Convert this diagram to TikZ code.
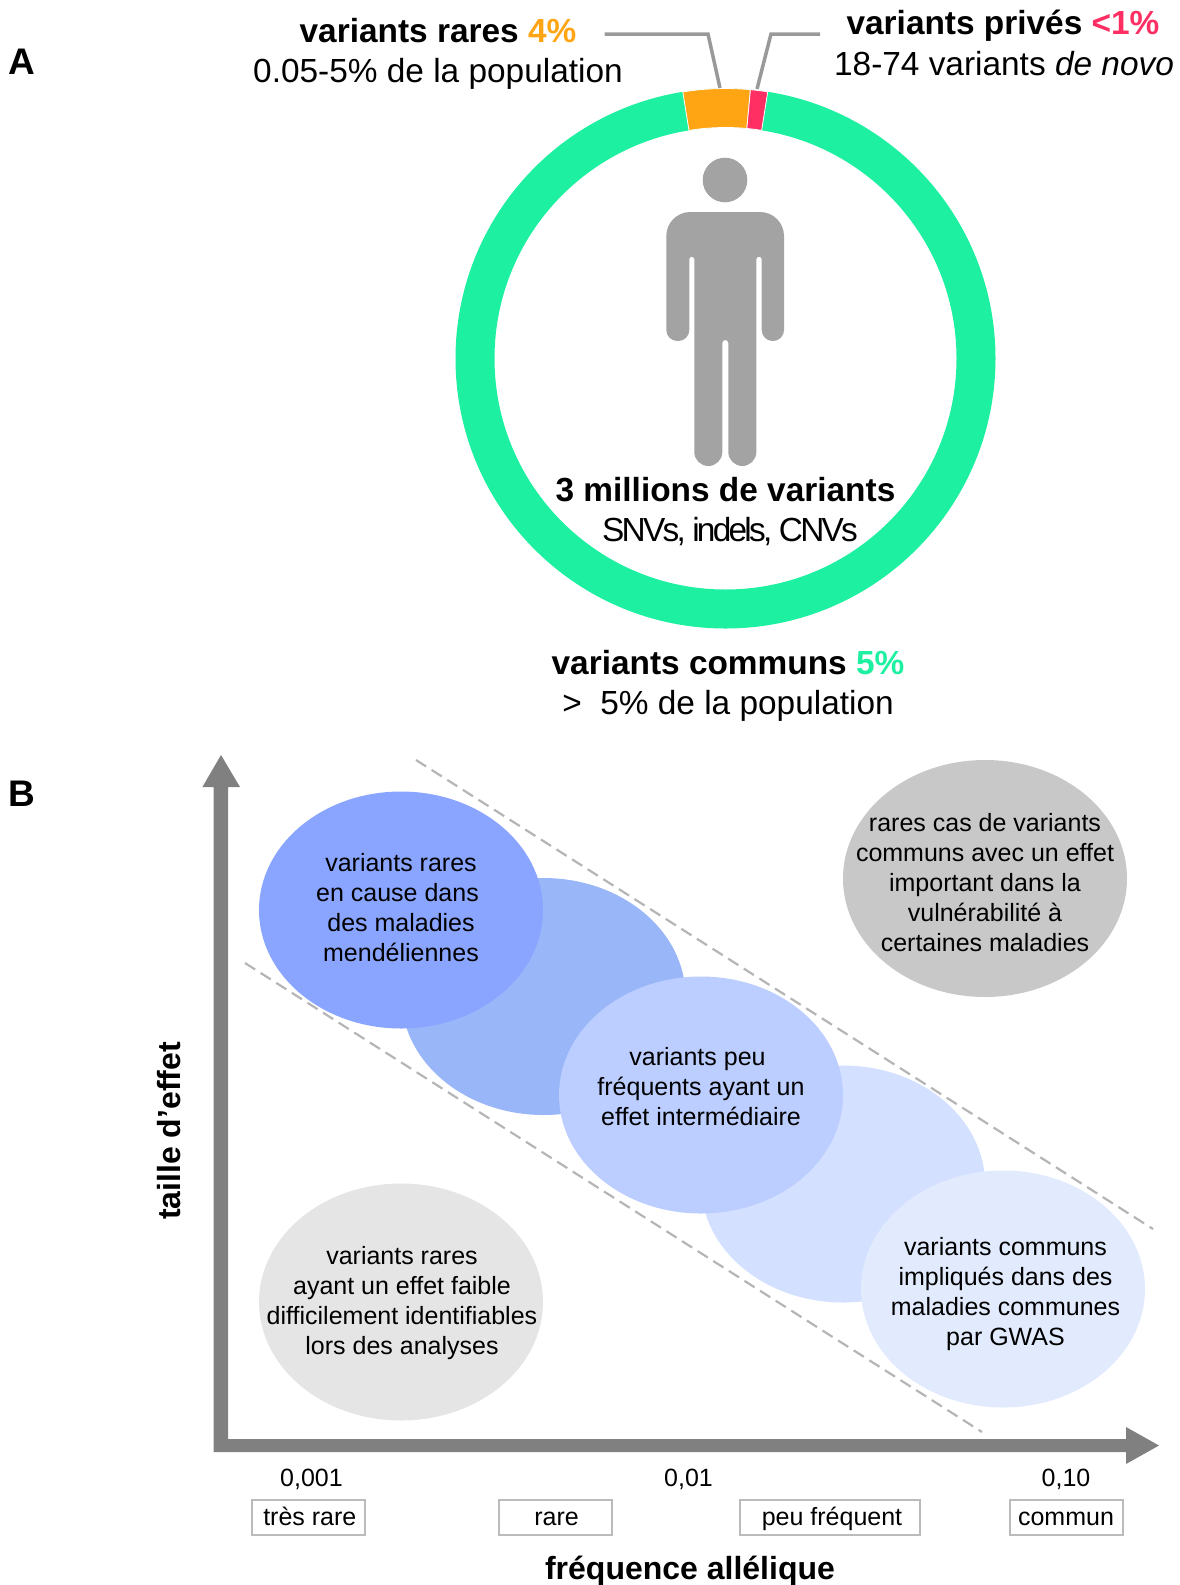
\documentclass[tikz,border=0pt]{standalone}
\usepackage{fontspec}
\setmainfont{Liberation Sans}
\usetikzlibrary{shapes.geometric,calc}
\definecolor{ringgreen}{HTML}{1DF0A0}
\definecolor{ringorange}{HTML}{FFA514}
\definecolor{ringpink}{HTML}{FF2E63}
\definecolor{leader}{HTML}{999999}
\definecolor{personfill}{HTML}{A3A3A3}
\definecolor{axisgrey}{HTML}{808080}
\definecolor{ellA}{HTML}{8AA5FF}
\definecolor{ellB}{HTML}{99B6F8}
\definecolor{ellC}{HTML}{BCCDFF}
\definecolor{ellD}{HTML}{D3E0FF}
\definecolor{ellE}{HTML}{E2EAFD}
\definecolor{ellG}{HTML}{C8C8C8}
\definecolor{ellL}{HTML}{E5E5E5}
\definecolor{dashgrey}{HTML}{B5B5B5}
\definecolor{boxgrey}{HTML}{BBBBBB}
\tikzset{
  x=1pt,y=-1pt,
  titletext/.style={inner sep=0pt,anchor=center,font=\fontsize{33.4}{40}\selectfont},
  axistext/.style={inner sep=0pt,anchor=center,font=\fontsize{32}{40}\selectfont\bfseries},
  paneltext/.style={inner sep=0pt,anchor=center,font=\fontsize{37}{40}\selectfont\bfseries},
  smalltext/.style={inner sep=0pt,anchor=center,align=center,font=\fontsize{25}{30}\selectfont},
  blob/.style={ellipse,draw=none,minimum width=284pt,minimum height=237pt,inner sep=0pt},
  leaderline/.style={draw=leader,line width=3.5pt},
  dashline/.style={draw=dashgrey,line width=2.2pt,dash pattern=on 12pt off 6.5pt},
  axisfill/.style={fill=axisgrey,draw=none},
  scalebox/.style={draw=boxgrey,line width=2pt,rectangle,inner sep=0pt,minimum height=35pt,text height=20pt,text depth=5pt,font=\fontsize{25}{30}\selectfont},
  segment/.style={draw=white,line width=0.8pt},
}
\begin{document}
\begin{tikzpicture}
\useasboundingbox (0,0) rectangle (1180,1585);
% ring
\coordinate (c) at (725.5,358.5);
\fill[ringgreen,even odd rule] (c) circle[radius=270pt] (c) circle[radius=231pt];
\filldraw[segment,fill=ringorange] ($(c)+(99.1:270pt)$) arc[start angle=99.1,end angle=84.7,radius=270pt]
   -- ($(c)+(84.7:231pt)$) arc[start angle=84.7,end angle=99.1,radius=231pt] -- cycle;
\filldraw[segment,fill=ringpink] ($(c)+(84.7:270pt)$) arc[start angle=84.7,end angle=81,radius=270pt]
   -- ($(c)+(81:231pt)$) arc[start angle=81,end angle=84.7,radius=231pt] -- cycle;
% leaders
\coordinate (rareA) at (604.5,34); \coordinate (rareB) at (708,34); \coordinate (rareC) at (720,88);
\coordinate (privA) at (820,34); \coordinate (privB) at (771,34); \coordinate (privC) at (757,89);
\draw[leaderline] (rareA) -- (rareB) -- (rareC);
\draw[leaderline] (privA) -- (privB) -- (privC);
% person
\fill[personfill] (725,180) circle[radius=22.3pt];
\fill[personfill] (666.3,300) [rounded corners=24pt] -- (666.3,212) -- (784,212) -- (784,300)
  [rounded corners=11pt] -- (784,341) -- (761.7,341) -- (761.7,300)
  [rounded corners=2.6pt] -- (761.7,256.7) -- (756.3,256.7) -- (756.3,300)
  [rounded corners=14pt] -- (756.3,466) -- (728.3,466) -- (728.3,400)
  [rounded corners=3pt] -- (728.3,340) -- (722.3,340) -- (722.3,400)
  [rounded corners=14pt] -- (722.3,466) -- (694.3,466) -- (694.3,400)
  [rounded corners=2.6pt] -- (694.3,256.7) -- (689.3,256.7) -- (689.3,300)
  [rounded corners=11pt] -- (689.3,341) -- (666.3,341) -- cycle;
% texts A
\node[paneltext] (labA) at (21.5,62) {A};
\node[titletext] (rare1) at (438,31) {\bfseries variants rares \textcolor{ringorange}{4\%}};
\node[titletext] (rare2) at (438,74) {0.05-5\% de la population};
\node[titletext] (priv1) at (1003,26) {\bfseries variants privés \textcolor{ringpink}{<1\%}};
\node[titletext] (priv2) at (1004,64) {18-74 variants \textit{de novo}};
\node[titletext] (tot1) at (725.5,490) {\bfseries 3 millions de variants};
\node[titletext] (tot2) at (730,532) {\addfontfeatures{LetterSpace=-8.2}SNVs, indels, CNVs};
\node[titletext] (com1) at (728,663) {\bfseries variants communs \textcolor{ringgreen}{5\%}};
\node[titletext] (com2) at (728,706) {>\ \ 5\% de la population};
% B
\node[paneltext] (labB) at (21.5,794) {B};
\node[blob,fill=ellB] (e2) at (543.5,996.5) {};
\node[blob,fill=ellA] (e1) at (401,910) {};
\node[blob,fill=ellD] (e4) at (843,1184) {};
\node[blob,fill=ellC] (e3) at (701,1095) {};
\node[blob,fill=ellE] (e5) at (1003,1289) {};
\node[blob,fill=ellG] (e6) at (985,878.5) {};
\node[blob,fill=ellL] (e7) at (401,1302) {};
\coordinate (d1a) at (416,760); \coordinate (d1b) at (1153,1229);
\coordinate (d2a) at (245,963); \coordinate (d2b) at (982,1432);
\draw[dashline] (d1a) -- (d1b);
\draw[dashline] (d2a) -- (d2b);
\node[smalltext] (t1) at (401,908) {variants rares\\\makebox[0pt]{en cause dans\hspace*{7pt}}\\des maladies\\mendéliennes};
\node[smalltext] (t3) at (701,1087) {variants peu\hspace*{7pt}\\fréquents ayant un\\effet intermédiaire};
\node[smalltext] (t5) at (1005.5,1294) {variants communs\\impliqués dans des\\maladies communes\\par GWAS};
\node[smalltext] (t6) at (985,883) {rares cas de variants\\communs avec un effet\\important dans la\\vulnérabilité à\\certaines maladies};
\node[smalltext] (t7) at (402,1303) {variants rares\\ayant un effet faible\\difficilement identifiables\\lors des analyses};
% axes
\fill[axisfill] (213.7,1452) -- (213.7,787) -- (202.4,787) -- (221,755) -- (240,787) -- (228,787) -- (228,1439)
  -- (1126,1439) -- (1126,1427) -- (1159,1445.5) -- (1126,1464) -- (1126,1452) -- cycle;
\node[smalltext] (v1) at (311.5,1479) {0,001};
\node[smalltext] (v2) at (688.5,1479) {0,01};
\node[smalltext] (v3) at (1066,1479) {0,10};
\node[scalebox,minimum width=113pt] (b1) at (308.3,1517.5) {\hspace*{3pt}très rare};
\node[scalebox,minimum width=113pt] (b2) at (555.5,1517.5) {\hspace*{2pt}rare};
\node[scalebox,minimum width=180pt] (b3) at (830,1517.5) {\hspace*{4pt}peu fréquent};
\node[scalebox,minimum width=113pt] (b4) at (1066,1517.5) {commun};
\node[axistext] (xlab) at (690,1571) {fréquence allélique};
\node[axistext,rotate=90] (ylab) at (169,1131) {taille d’effet};
\end{tikzpicture}
\end{document}
